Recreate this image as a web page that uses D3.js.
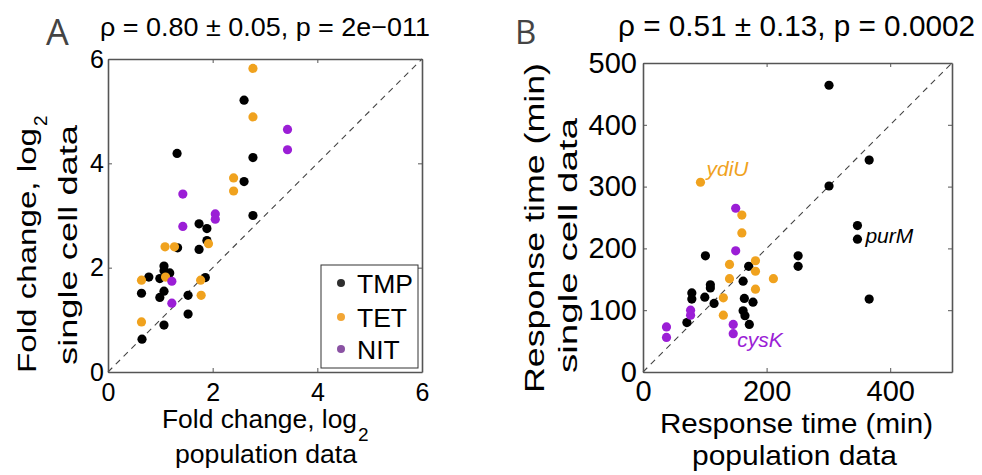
<!DOCTYPE html>
<html><head><meta charset="utf-8">
<script src="https://cdn.jsdelivr.net/npm/d3@7"></script>
<style>
html,body{margin:0;padding:0;background:#fff;}
svg{display:block;font-family:"Liberation Sans",Arial,Helvetica,sans-serif;}
</style></head>
<body>
<svg id="chart" width="982" height="475"></svg>
<script>
// ---------- DATA ----------
const groups = ["TMP", "TET", "NIT"];
const groupColors = ["#000000", "#F0A21E", "#9B1ED6"];
const legendColors = ["#2e2e2e", "#F2A636", "#8A52A3"];

// Panel A: fold change (log2), population (x) vs single cell (y)
const foldTMP_x = [2.60,1.32,2.77,2.60,2.77,1.74,1.89,1.33,1.89,1.74,1.07,1.18,1.07,0.78,0.99,1.86,0.64,1.07,0.99,1.53,1.53,1.07,0.65];
const foldTMP_y = [5.21,4.19,4.11,3.65,3.00,2.84,2.75,2.38,2.52,2.35,2.03,1.90,1.94,1.82,1.79,1.81,1.51,1.55,1.43,1.47,1.11,0.90,0.63];
const foldTET_x = [2.77,2.77,2.40,2.40,1.09,1.27,1.92,0.64,1.10,1.77,1.78,0.64];
const foldTET_y = [5.82,4.89,3.72,3.47,2.40,2.40,2.46,1.76,1.82,1.76,1.47,0.96];
const foldNIT_x = [3.43,3.43,1.43,2.05,2.05,1.43,1.22,1.22];
const foldNIT_y = [4.65,4.26,3.41,3.03,2.93,2.79,1.74,1.32];

// Panel B: response time (min), population (x) vs single cell (y)
const respTMP_x = [301,366,301,347,347,366,101,251,251,171,162,109,109,79,79,100,115,164,178,162,165,172,71];
const respTMP_y = [464,343,301,237,215,118,188,188,171,171,147,141,136,128,118,121,111,119,113,99,91,77,80];
const respTET_x = [93,160,160,140,182,182,140,211,182,130,130];
const respTET_y = [307,254,225,174,180,163,151,151,134,120,92];
const respNIT_x = [150,150,77,77,146,146,38,38];
const respNIT_y = [265,196,100,92,77,62,73,56];

const geneLabels = ["ydiU", "purM", "cysK"];
const geneX = [93, 347, 146];
const geneY = [307, 215, 62];

const ticksA = [0, 2, 4, 6];
const ticksB_x = [0, 200, 400];
const ticksB_y = [0, 100, 200, 300, 400, 500];

const titleA = "ρ = 0.80 ± 0.05, p = 2e−011";
const titleB = "ρ = 0.51 ± 0.13, p = 0.0002";

// ---------- DRAW ----------
const svg = d3.select("#chart");
svg.append("rect").attr("width", 982).attr("height", 475).attr("fill", "#fff");

function panel(cfg) {
  const g = svg.append("g");
  const x = d3.scaleLinear().domain(cfg.domain).range(cfg.xr);
  const y = d3.scaleLinear().domain(cfg.domain).range(cfg.yr);
  const axColor = "#555";

  // diagonal
  g.append("line")
    .attr("x1", x(cfg.domain[0])).attr("y1", y(cfg.domain[0]))
    .attr("x2", x(cfg.domain[1])).attr("y2", y(cfg.domain[1]))
    .attr("stroke", "#444").attr("stroke-width", 1.1)
    .attr("stroke-dasharray", "6,5");

  // axes
  const fs = cfg.tickFont;
  const bottom = g.append("g").attr("transform", `translate(0,${cfg.yr[0]})`)
    .call(d3.axisBottom(x).tickValues(cfg.xticks).tickSizeInner(-4).tickSizeOuter(0).tickPadding(cfg.xpad).tickFormat(d3.format("d")));
  const top = g.append("g").attr("transform", `translate(0,${cfg.yr[1]})`)
    .call(d3.axisTop(x).tickValues(cfg.xticks).tickSizeInner(-4).tickSizeOuter(0).tickFormat(""));
  const left = g.append("g").attr("transform", `translate(${cfg.xr[0]},0)`)
    .call(d3.axisLeft(y).tickValues(cfg.yticks).tickSizeInner(-4).tickSizeOuter(0).tickPadding(cfg.ypad).tickFormat(d3.format("d")));
  const right = g.append("g").attr("transform", `translate(${cfg.xr[1]},0)`)
    .call(d3.axisRight(y).tickValues(cfg.yticks).tickSizeInner(-4).tickSizeOuter(0).tickFormat(""));
  [bottom, top, left, right].forEach(a => {
    a.select(".domain").attr("stroke", axColor).attr("stroke-width", 1.6);
    a.selectAll(".tick line").attr("stroke", axColor).attr("stroke-width", 1);
    a.selectAll("text").attr("font-size", fs).attr("fill", "#000")
      .attr("font-family", '"Liberation Sans",Arial,sans-serif');
  });

  // points
  cfg.series.forEach((s, i) => {
    g.append("g").selectAll("circle").data(s.x.map((v, j) => [v, s.y[j]]))
      .join("circle")
      .attr("cx", d => x(d[0])).attr("cy", d => y(d[1]))
      .attr("r", cfg.r).attr("fill", groupColors[i]);
  });
  return { g, x, y };
}

const A = panel({
  domain: [0, 6], xr: [108, 422], yr: [372, 59],
  xticks: ticksA, yticks: ticksA, tickFont: 25, xpad: 11, ypad: 4, r: 4.6,
  series: [{x: foldTMP_x, y: foldTMP_y}, {x: foldTET_x, y: foldTET_y}, {x: foldNIT_x, y: foldNIT_y}]
});
const B = panel({
  domain: [0, 500], xr: [643, 952], yr: [372, 63],
  xticks: ticksB_x, yticks: ticksB_y, tickFont: 29, xpad: 8, ypad: 6, r: 4.6,
  series: [{x: respTMP_x, y: respTMP_y}, {x: respTET_x, y: respTET_y}, {x: respNIT_x, y: respNIT_y}]
});

// panel letters
svg.append("text").attr("x", 46).attr("y", 45).text("A")
  .attr("font-family", '"Open Sans",sans-serif').attr("font-size", 36).attr("fill", "#444");
svg.append("text").attr("x", 515).attr("y", 44).text("B")
  .attr("font-family", '"Open Sans",sans-serif').attr("font-size", 33).attr("fill", "#444");

// titles
function txt(x, y, s, size, len, extra) {
  const t = svg.append("text").attr("x", x).attr("y", y).text(s)
    .attr("font-size", size).attr("fill", "#000");
  if (len) t.attr("textLength", len).attr("lengthAdjust", "spacingAndGlyphs");
  if (extra) extra(t);
  return t;
}
txt(100, 36, titleA, 26.5, 330);
txt(618, 36, titleB, 29.5, 357);

// Panel A axis labels
txt(162, 428, "Fold change, log", 26, 195);
txt(358, 441, "2", 19);
txt(175, 463, "population data", 26, 182);
txt(0, 0, "Fold change, log", 25, 245, t => t.attr("transform", "translate(36,373) rotate(-90)"));
txt(0, 0, "2", 19, null, t => t.attr("transform", "translate(47,126) rotate(-90)"));
txt(0, 0, "single cell data", 25, 240, t => t.attr("transform", "translate(77,365) rotate(-90)"));

// Panel B axis labels
txt(660, 433, "Response time (min)", 28.5, 273);
txt(692, 465, "population data", 28.5, 205);
txt(0, 0, "Response time (min)", 28, 330, t => t.attr("transform", "translate(544,393) rotate(-90)"));
txt(0, 0, "single cell data", 25.5, 255, t => t.attr("transform", "translate(577,373) rotate(-90)"));

// Legend (panel A)
const lg = svg.append("g");
lg.append("rect").attr("x", 321).attr("y", 265).attr("width", 97).attr("height", 103)
  .attr("fill", "#fff").attr("stroke", "#333").attr("stroke-width", 1);
const legY = [283, 317, 349];
groups.forEach((name, i) => {
  lg.append("circle").attr("cx", 341).attr("cy", legY[i]).attr("r", 4).attr("fill", legendColors[i]);
  lg.append("text").attr("x", 357).attr("y", legY[i] + 10).text(name).attr("font-size", 26.5).attr("fill", "#000");
});

// Gene annotations (panel B)
const labelColors = ["#F0A21E", "#000000", "#9B1ED6"];
const labelDx = [6, 8, 4];
const labelDy = [-6, 4, 13];
geneLabels.forEach((name, i) => {
  svg.append("text").attr("x", B.x(geneX[i]) + labelDx[i]).attr("y", B.y(geneY[i]) + labelDy[i])
    .text(name).attr("font-size", 21).attr("font-style", "italic").attr("fill", labelColors[i]);
});
</script>
</body></html>
